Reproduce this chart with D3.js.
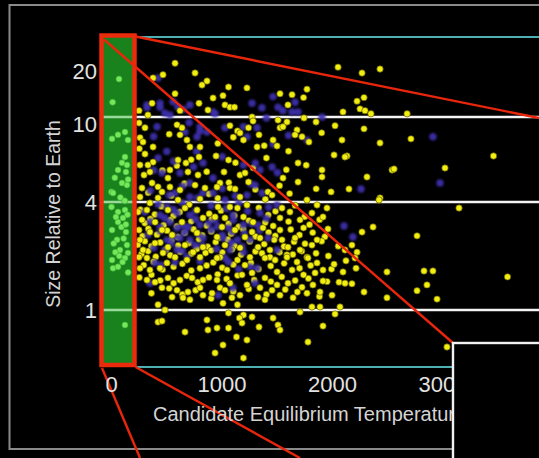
<!DOCTYPE html>
<html>
<head>
<meta charset="utf-8">
<script src="https://cdn.jsdelivr.net/npm/d3@7"></script>
<style>
  html, body { margin: 0; padding: 0; background: #000; }
  svg { display: block; }
  text { font-family: "Liberation Sans", Arial, Helvetica, sans-serif; }
</style>
</head>
<body>
<svg id="chart" width="539" height="458"></svg>
<script>
// Kepler planet candidates: equilibrium temperature (K) vs. radius (Earth radii)
const xTicks = [0, 1000, 2000, 3000];
const yTickLabels = [1, 4, 10, 20];
const gridValues = [1, 4, 10];

// newer candidates (yellow)
const newCandidates = [
  [575,22.5],[466,18.9],[376,18.0],[756,19.4],[575,14.2],[819,16.2],[864,17.2],[792,12.3],[367,12.3],
  [249,11.0],[330,10.3],[620,11.0],[873,11.1],[249,9.38],[303,8.9],[593,9.19],[638,8.9],[683,7.8],
  [620,8.25],[258,8.0],[285,7.64],[376,7.24],[710,7.24],[801,7.24],
  [1059,15.7],[1226,15.5],[1009,13.8],[919,13.3],[1027,12.0],[1072,11.6],[1113,11.6],[1525,14.2],
  [1634,14.0],[1769,15.2],[1738,13.4],[1597,12.0],[1272,10.0],[1281,9.57],[1507,9.67],[1588,9.48],
  [1742,9.9],[1851,9.48],[1072,9.1],[1140,8.6],[1163,8.42],[1240,8.9],[1335,8.25],[1525,8.9],
  [1552,9.0],[1679,8.69],[1661,8.25],[1724,8.08],[1462,7.8],[1194,7.8],[1787,7.64],[1317,7.24],[1498,7.32],
  [2050,21.2],[2267,19.4],[2430,20.6],[2222,12.7],[2285,13.4],[2249,11.3],[2294,11.0],[2348,10.5],
  [2095,10.8],[2675,10.5],[2023,9.1],[2285,8.8],[2086,7.8],[2710,7.9],[2430,7.56],[2014,6.64],
  [2131,6.57],[2113,6.5],[3457,6.57],[3018,5.77],[2539,5.65],[2557,5.71],[1905,5.65],[1905,5.24],
  [2312,5.24],[1987,4.46],[2149,4.6],[2430,4.18],
  [2421,4.09],[1950,3.70],[3145,3.70],[1914,3.30],[1959,2.83],[2367,2.90],[2267,2.72],[2765,2.59],
  [2176,2.30],[2222,2.10],[2113,2.16],[2122,1.88],[2204,1.95],[2014,1.80],[1914,1.67],[2095,1.63],
  [2213,1.71],[2493,1.63],[2828,1.65],[2909,1.65],[3584,1.53],[1914,1.45],[2059,1.43],[2113,1.41],
  [2176,1.40],[2855,1.38],[2285,1.26],[2765,1.28],[1996,1.21],[2493,1.17],[2946,1.15],[1887,1.26],
  [2068,1.04],[1887,1.04],[2023,0.95],[1914,0.814],[3036,0.622],
  [303,6.71],[376,6.15],[258,5.96],[330,5.96],[602,6.29],[674,6.09],[792,6.50],[294,5.35],[348,5.53],
  [529,5.65],[692,5.53],[511,5.18],[783,5.35],[276,4.65],[367,4.91],[457,4.46],[529,4.70],[620,4.55],
  [756,4.80],[846,4.65],[258,4.22],[348,3.95],[421,4.18],[602,4.09],[801,4.13],[240,3.52],[321,3.61],
  [511,3.61],[665,3.70],[774,3.61],[276,3.18],[394,3.09],[638,3.09],[828,3.26],[249,2.79],[348,2.72],
  [457,2.79],[548,2.62],[774,2.69],[258,2.46],[394,2.36],[511,2.24],[665,2.30],[285,2.16],[466,2.08],
  [738,2.10],[828,2.24],[249,1.97],[575,1.97],[801,1.97],
  [946,6.57],[1059,6.29],[1018,5.53],[1163,5.35],[1208,5.47],[1240,4.96],[982,4.91],[955,4.70],
  [1072,4.65],[1118,4.60],[1163,4.22],[1552,5.18],[1688,4.96],[1688,6.09],[1416,4.46],[1453,4.31],
  [1769,4.09],[964,3.75],[1072,3.75],[1140,3.70],[1226,3.85],[1543,3.70],[1615,3.52],[1814,3.47],
  [1860,3.85],[937,3.30],[1027,3.26],[1194,3.30],[1281,3.09],[1525,3.26],[1706,3.18],[1000,2.90],
  [1118,2.79],[1272,2.72],[1371,2.87],[1525,2.79],[1738,2.87],[955,2.55],[1208,2.55],[1344,2.52],
  [1543,2.46],[1661,2.52],[1860,2.46],[1027,2.30],[1163,2.22],[1326,2.24],[1434,2.16],[1597,2.24],
  [1706,2.16],[1814,2.30],[982,1.97],[1253,1.97],[1434,1.97],[1588,2.03],[1769,1.97],
  [321,1.95],[258,1.71],[348,1.67],[439,1.71],[502,1.83],[683,1.90],[801,1.71],[321,1.47],[394,1.43],
  [511,1.51],[620,1.47],[729,1.51],[828,1.47],[457,1.33],[593,1.29],[692,1.26],[801,1.33],[548,1.18],
  [647,1.17],[710,1.14],[828,1.21],[421,1.07],[484,1.00],[421,0.857],[457,0.868],[665,0.754],
  [864,0.88],[873,0.774],
  [955,1.95],[1140,1.90],[1208,1.78],[1389,1.95],[1480,1.90],[1588,1.97],[1679,1.85],[1778,1.95],
  [1860,1.83],[1045,1.67],[1181,1.57],[1272,1.61],[1389,1.51],[1498,1.63],[1634,1.67],[1738,1.57],
  [1842,1.61],[955,1.47],[1072,1.41],[1226,1.38],[1344,1.33],[1498,1.38],[1597,1.41],[1724,1.34],
  [1823,1.38],[910,1.24],[1027,1.29],[1163,1.21],[1326,1.18],[1453,1.29],[1525,1.21],[1643,1.17],
  [1769,1.24],[1090,1.17],[1009,1.09],[1140,1.07],[1389,1.14],[1814,1.04],[1706,0.975],[1462,0.902],
  [1194,0.938],[1059,0.962],[1272,0.914],[1158,0.902],[1181,0.846],[955,0.794],[1059,0.794],
  [1335,0.804],[1507,0.825],[1525,0.774],[1131,0.707],[1226,0.68],[1009,0.638],[1778,0.663],
  [937,0.576],[1194,0.54]
];

// newer candidates in the crowded core, drawn beneath the earlier ones
const newCoreCandidates = [
  [262,3.62],[392,3.41],[452,3.78],[561,3.35],[618,3.52],[703,3.87],[884,3.44],[991,3.58],[1112,3.36],
  [1333,3.71],[1418,3.39],[1484,3.55],[1662,3.83],[1748,3.31],
  [302,3.05],[351,3.22],[472,2.97],[533,3.18],[592,2.93],[721,3.12],[862,2.95],[908,3.21],[1061,3.03],
  [1152,2.91],[1243,3.15],[1391,3.07],[1463,2.94],[1602,3.11],[1792,2.99],[1883,3.19],
  [281,2.58],[333,2.84],[412,2.63],[503,2.77],[601,2.55],[662,2.69],[742,2.82],[821,2.61],[903,2.74],
  [972,2.53],[1082,2.66],[1191,2.83],[1302,2.57],[1422,2.71],[1482,2.59],[1622,2.81],[1701,2.62],
  [1821,2.7],[1931,2.56],
  [238,2.31],[302,2.42],[361,2.27],[442,2.38],[541,2.45],[603,2.29],[701,2.36],[792,2.48],[871,2.25],
  [943,2.39],[1052,2.47],[1112,2.28],[1251,2.41],[1382,2.33],[1472,2.46],[1561,2.26],[1652,2.4],
  [1751,2.34],[1902,2.42],[2052,2.27],
  [271,2.05],[332,2.13],[401,1.98],[492,2.17],[531,2.02],[622,2.11],[721,2.06],[772,2.19],[851,2.08],
  [902,2.15],[1003,2.09],[1091,2.18],[1172,2.03],[1302,2.12],[1362,2.07],[1521,2.1],[1641,2.04],
  [1722,2.13],[1851,2.07],[1962,2.0],
  [292,1.78],[381,1.86],[462,1.68],[562,1.74],[641,1.81],[722,1.66],[861,1.77],[921,1.84],[1002,1.72],
  [1103,1.79],[1262,1.83],[1331,1.69],[1441,1.76],[1562,1.82],[1702,1.71],[1802,1.77],[1991,1.69],
  [252,1.52],[362,1.57],[441,1.46],[562,1.41],[681,1.55],[781,1.43],[882,1.52],[961,1.58],[1042,1.49],
  [1141,1.56],[1291,1.47],[1442,1.44],[1541,1.53],[1662,1.46],[1782,1.5],[1951,1.44],
  [361,1.24],[522,1.32],[641,1.22],[762,1.29],[902,1.16],[982,1.33],[1102,1.27],[1242,1.31],[1402,1.22],
  [1572,1.3],[1682,1.26],[1882,1.19],
  [332,4.42],[421,4.71],[542,4.28],[661,4.88],[882,4.36],[962,4.17],[1062,4.93],[1302,4.58],[1392,4.12],
  [1521,4.77],[1612,4.38],[1852,4.61],
  [461,5.62],[592,5.91],[721,6.31],[862,5.54],[1122,6.11],[1282,5.78],[1402,6.43],[1582,5.66],[1762,5.95],
  [252,7.11],[522,8.31],[962,7.52],[1102,8.04],[1382,7.34],[1602,6.92],[1902,8.43]
];

// earlier candidates (violet)
const earlierCandidates = [
  [421,18.0],[439,12.3],[321,11.5],[529,10.3],[801,9.0],[774,8.08],[864,8.5],[484,10.6],[710,12.0],
  [650,11.2],[321,12.0],[439,11.6],[557,12.6],[602,11.6],[412,9.0],[665,8.5],[800,8.6],[920,10.8],
  [500,6.9],[770,6.9],
  [1272,12.3],[1362,11.5],[1462,13.6],[1507,11.6],[1552,11.0],[1634,10.8],[1661,12.5],[1688,10.8],
  [937,10.5],[1194,9.0],[1317,8.9],[1226,8.08],[1462,7.48],[1769,7.8],[1027,8.9],
  [2909,8.08],[2973,4.91],[2258,4.6],[1905,10.0],[2104,2.94],[2185,2.55],
  [421,6.43],[457,5.47],[620,5.47],[828,6.09],[710,4.91],[575,4.41],[710,4.22],[828,4.41],[502,3.75],
  [593,3.47],[710,3.38],[439,2.90],[593,2.87],[692,2.90],[801,2.98],[502,2.46],[620,2.52],[710,2.46],
  [828,2.52],[593,2.16],[683,1.97],[439,3.38],[529,3.09],[756,2.30],[484,2.16],
  [919,5.18],[1194,5.96],[1344,5.65],[1453,5.83],[919,4.41],[1226,4.31],[1362,4.41],[1498,3.85],
  [1099,3.38],[1344,3.47],[1059,2.87],[1194,2.98],[1009,2.52],[1140,2.46],[1416,2.52],[1072,2.16],
  [1194,2.10],[1498,2.16],[1027,4.09],[1299,4.80],[937,3.18],[1253,2.46],[1326,2.98],
  [394,1.83],[348,1.41],[575,1.85],
  [1059,1.85],[1253,1.74],[1317,1.71],[964,1.21],[1099,1.33],[1299,1.41],[1027,1.95],
  [352,4.52],[521,4.31],[642,4.74],[781,4.18],[1002,4.63],[1121,4.27],[1262,4.86],
  [301,3.52],[422,3.87],[561,3.63],[642,3.95],[762,3.58],[902,3.81],[1041,3.68],[1152,3.92],[1232,3.55],
  [1422,3.74],
  [352,3.11],[482,3.26],[641,2.98],[762,3.21],[881,3.06],[961,2.92],[1102,3.17],[1271,3.03],[1402,3.24],
  [331,2.63],[442,2.76],[562,2.58],[662,2.71],[782,2.65],[902,2.79],[1002,2.61],[1092,2.73],[1202,2.67],
  [1342,2.78],
  [382,2.22],[542,2.35],[642,2.14],[822,2.28],[952,2.19],[1082,2.37],[1182,2.25],
  [452,1.78],[802,1.87],[1152,1.69],
  [382,5.63],[562,6.21],[742,5.84],[1002,6.52],[1302,6.08],[1502,5.49],
  [381,8.1],[702,9.4],[1402,9.9],[1602,8.2]
];

// candidates inside the highlighted cool band (green)
const coolCandidates = [
  [68,17.7],[10,12.5],[122,8.5],[59,8.25],[5,7.9],[149,7.8],[122,6.5],[140,5.96],[59,5.65],[131,5.53],
  [95,4.91],[140,4.80],[0,4.46],[14,4.41],[0,3.75],[59,3.52],[122,3.61],[104,3.26],[59,3.09],
  [5,2.79],[131,2.72],[50,2.46],[140,2.30],[77,2.16],[149,2.08],[5,1.90],[14,1.71],[59,1.74],
  [122,1.95],[122,0.825],
  [95,6.1],[30,5.2],[150,5.1],[80,4.2],[120,4.05],[40,3.3],[145,3.4],[90,2.9],[20,2.35],[110,2.5],
  [35,2.1],[100,1.85],[150,1.62],[70,2.0],[130,3.0]
];

const svg = d3.select("#chart");
const W = 539, H = 458;

const x = d3.scaleLinear().domain([0, 3000]).range([111.5, 443]);
const y = d3.scaleLog()
  .domain([0.5, 1, 4, 10, 20, 40])
  .range([364, 310, 202, 117, 71, 25]);

// layout of the decorative frame and inset
const plotLeft = 136, plotRight = W, plotTop = 37, plotBottom = 367;
const band = { x0: 101.5, x1: 134.5, y0: 35.5, y1: 365 };
const inset = { x: 453, y: 343 };

svg.append("rect").attr("width", W).attr("height", H).attr("fill", "#000");

// outer gray frame
svg.append("path")
  .attr("d", `M${W},5 H9.5 V449 H${inset.x}`)
  .attr("fill", "none").attr("stroke", "#8a8a8a").attr("stroke-width", 2);

svg.append("defs").append("filter").attr("id", "soft")
  .append("feGaussianBlur").attr("stdDeviation", 0.8);

// cyan plot bounds
svg.append("line").attr("x1", plotLeft).attr("x2", plotRight).attr("y1", plotTop).attr("y2", plotTop)
  .attr("stroke", "#4fb0b4").attr("stroke-width", 2);
svg.append("line").attr("x1", plotLeft).attr("x2", inset.x).attr("y1", plotBottom).attr("y2", plotBottom)
  .attr("stroke", "#4fb0b4").attr("stroke-width", 2);

// grid lines
svg.append("g").selectAll("line").data(gridValues).join("line")
  .attr("x1", band.x0).attr("x2", plotRight)
  .attr("y1", d => y(d)).attr("y2", d => y(d))
  .attr("stroke", "#f4f4f4").attr("stroke-width", 2.6);

const drawNew = data => svg.append("g").selectAll("circle").data(data).join("circle")
  .attr("cx", d => x(d[0])).attr("cy", d => y(d[1])).attr("r", 3.2)
  .attr("fill", "#f2ee12").attr("stroke", "#5e5a00").attr("stroke-width", 0.7);

// crowded core first, then the earlier candidates, then the remaining newer ones
drawNew(newCoreCandidates);

svg.append("g").attr("filter", "url(#soft)")
  .selectAll("circle").data(earlierCandidates).join("circle")
  .attr("cx", d => x(d[0])).attr("cy", d => y(d[1])).attr("r", 3.7)
  .attr("fill", "#3d2fae").attr("fill-opacity", 0.92);

drawNew(newCandidates);

// highlighted cool band
svg.append("rect")
  .attr("x", band.x0).attr("y", band.y0)
  .attr("width", band.x1 - band.x0).attr("height", band.y1 - band.y0)
  .attr("fill", "#1b8c1e").attr("fill-opacity", 0.93);
svg.append("g").selectAll("line").data(gridValues).join("line")
  .attr("x1", band.x0).attr("x2", band.x1)
  .attr("y1", d => y(d)).attr("y2", d => y(d))
  .attr("stroke", "#bff0bf").attr("stroke-width", 2.4).attr("stroke-opacity", 0.75);
svg.append("g")
  .selectAll("circle").data(coolCandidates).join("circle")
  .attr("cx", d => x(d[0])).attr("cy", d => y(d[1])).attr("r", 3)
  .attr("fill", "#72e85a").attr("stroke", "#3fb036").attr("stroke-width", 0.6);
svg.append("rect")
  .attr("x", band.x0).attr("y", band.y0)
  .attr("width", band.x1 - band.x0).attr("height", band.y1 - band.y0)
  .attr("fill", "none").attr("stroke", "#ec2a0c").attr("stroke-width", 4.5);

// zoom guide lines
const guides = [
  [band.x1 + 1, band.y0 + 1, W, 118],
  [band.x0 + 2.5, band.y0 + 4, inset.x, inset.y],
  [band.x1 + 1, band.y1 + 2, 300, H],
  [band.x0 + 0.5, band.y1 + 3, 140, H]
];
svg.append("g").selectAll("line").data(guides).join("line")
  .attr("x1", d => d[0]).attr("y1", d => d[1]).attr("x2", d => d[2]).attr("y2", d => d[3])
  .attr("stroke", "#e8260c").attr("stroke-width", 2.4);

// axis labels
svg.append("g").selectAll("text").data(yTickLabels).join("text")
  .attr("x", 97).attr("y", d => y(d)).attr("dy", d => d === 10 ? "0.7em" : "0.36em")
  .attr("text-anchor", "end").attr("font-size", 22).attr("fill", "#e2e2e2")
  .text(d => d);

svg.append("g").selectAll("text").data(xTicks).join("text")
  .attr("x", d => x(d)).attr("y", 392)
  .attr("text-anchor", "middle").attr("font-size", 22).attr("fill", "#e2e2e2")
  .text(d => d);

svg.append("text")
  .attr("x", 153).attr("y", 421)
  .attr("font-size", 20).attr("fill", "#d4d4d4")
  .text("Candidate Equilibrium Temperature (K)");

svg.append("text")
  .attr("transform", "translate(60,214) rotate(-90)")
  .attr("text-anchor", "middle").attr("font-size", 19.5).attr("fill", "#d4d4d4")
  .text("Size Relative to Earth");

// inset panel
svg.append("rect")
  .attr("x", inset.x).attr("y", inset.y)
  .attr("width", W - inset.x + 5).attr("height", H - inset.y + 5)
  .attr("fill", "#000").attr("stroke", "#f2f2f2").attr("stroke-width", 2.4);
</script>
</body>
</html>
